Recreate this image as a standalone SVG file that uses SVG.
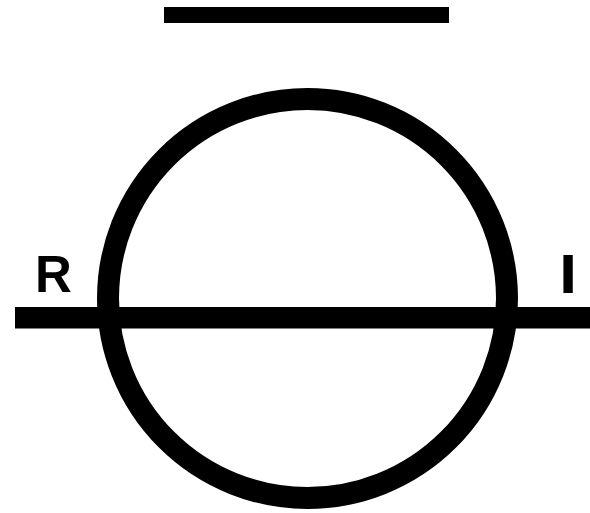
<svg xmlns="http://www.w3.org/2000/svg" width="590" height="513" viewBox="0 0 590 513">
<style>
.lbl{font-family:"Liberation Sans",Arial,sans-serif;font-weight:bold;font-size:51px;fill:#000}
</style>
<rect width="590" height="513" fill="#fff"/>
<g id="shapes">
<rect id="topbar" x="164" y="7" width="285" height="16" fill="#000"/>
<circle id="circle" cx="307.5" cy="298.5" r="199.5" fill="none" stroke="#000" stroke-width="22"/>
<rect id="axis" x="15" y="307" width="575" height="21.5" fill="#000"/>
</g>
<g id="labels">
<text class="lbl" x="35" y="292">R</text>
<text class="lbl" x="561" y="291.5" stroke="#000" stroke-width="2">I</text>
</g>
</svg>
